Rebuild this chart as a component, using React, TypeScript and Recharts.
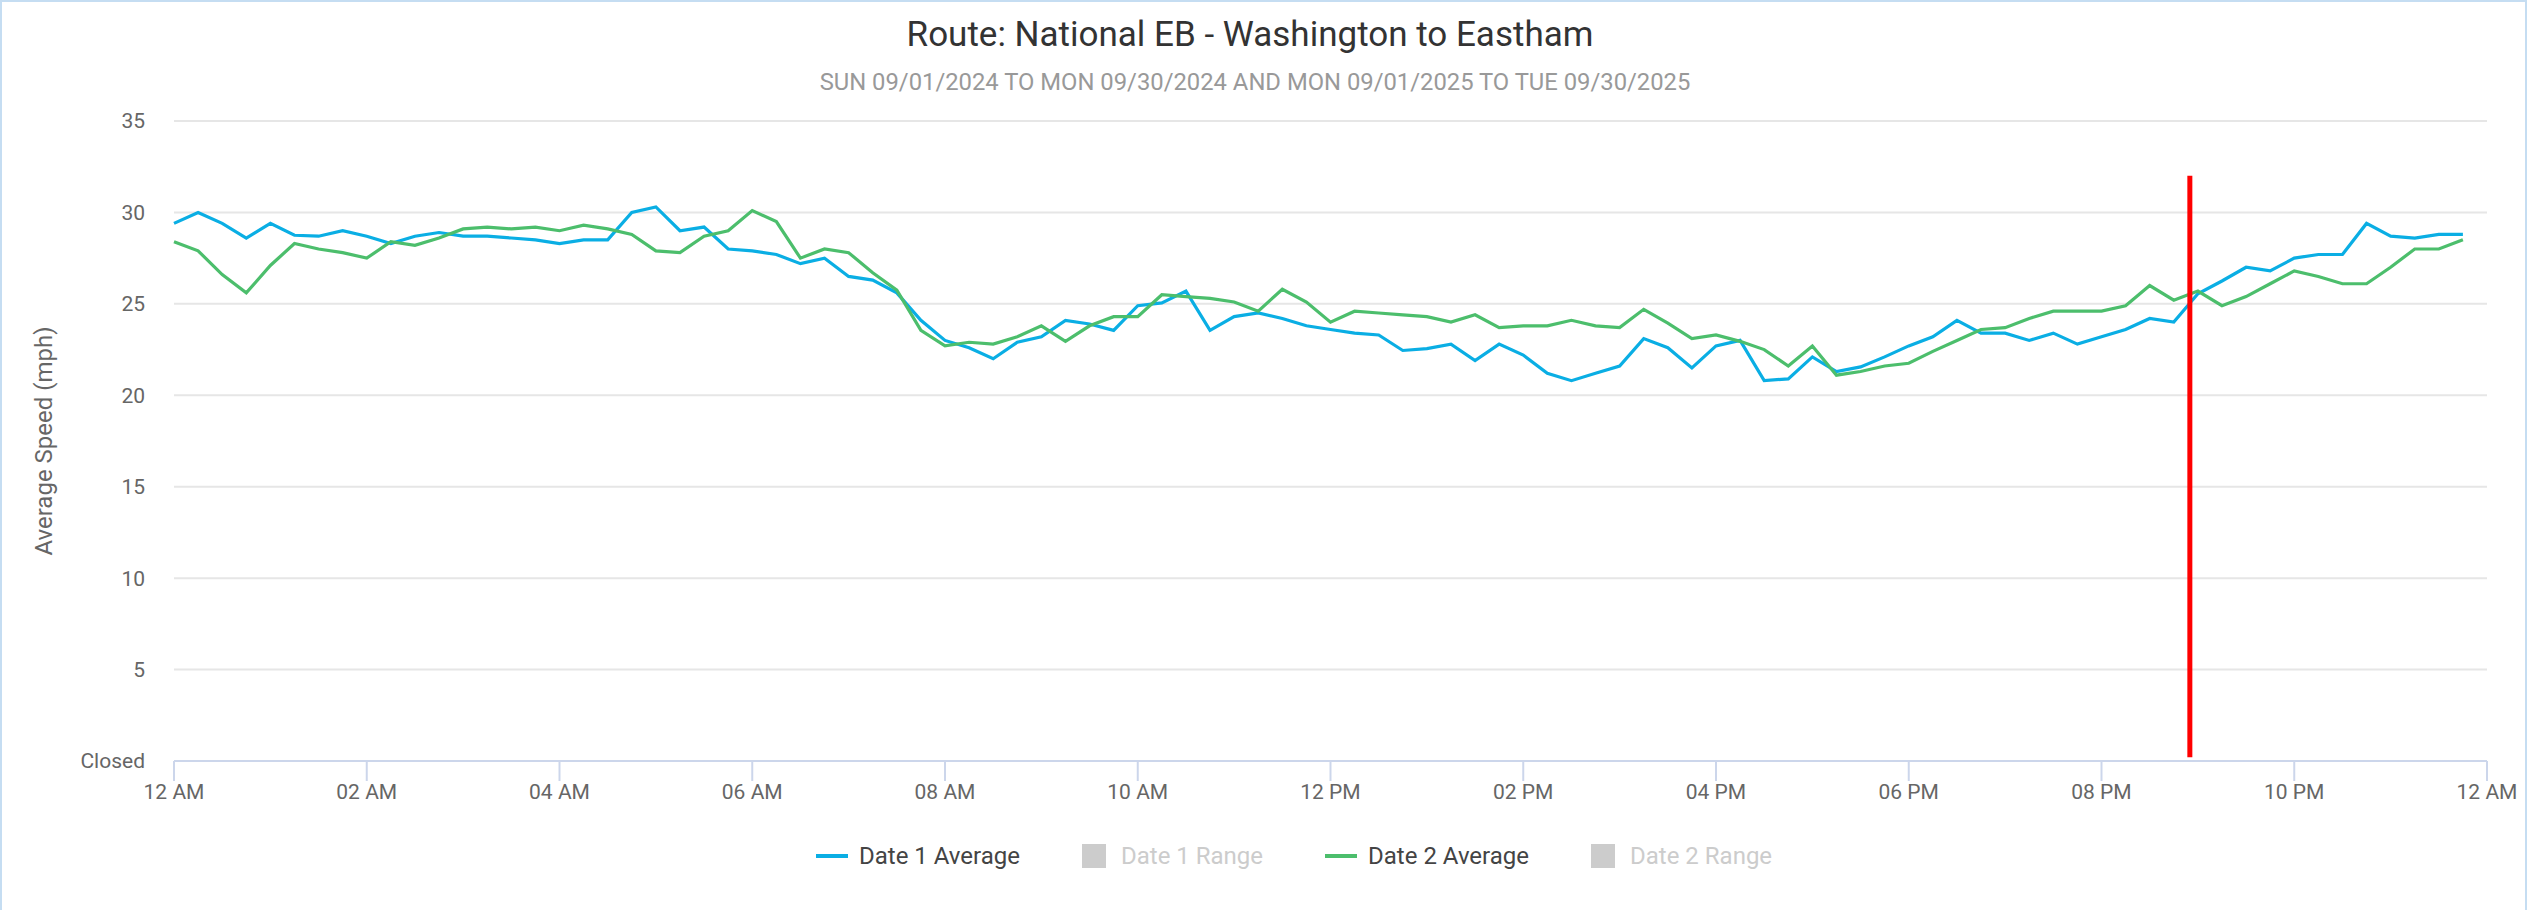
import { LineChart, Line, XAxis, YAxis, CartesianGrid, ReferenceLine } from "recharts";

const TITLE = "Route: National EB - Washington to Eastham";
const SUBTITLE = "SUN 09/01/2024 TO MON 09/30/2024 AND MON 09/01/2025 TO TUE 09/30/2025";
const Y_LABEL = "Average Speed (mph)";

// 15-minute buckets, 00:00 .. 23:45
const date1Avg = [
  29.4, 30.0, 29.4, 28.6, 29.4, 28.75, 28.7, 29.0, 28.7, 28.3,
  28.7, 28.9, 28.7, 28.7, 28.6, 28.5, 28.3, 28.5, 28.5, 30.0,
  30.3, 29.0, 29.2, 28.0, 27.9, 27.7, 27.2, 27.5, 26.5, 26.3,
  25.6, 24.1, 23.0, 22.6, 22.0, 22.9, 23.2, 24.1, 23.9, 23.55,
  24.9, 25.05, 25.7, 23.55, 24.3, 24.5, 24.2, 23.8, 23.6, 23.4,
  23.3, 22.45, 22.55, 22.8, 21.9, 22.8, 22.2, 21.2, 20.8, 21.2,
  21.6, 23.1, 22.6, 21.5, 22.7, 23.0, 20.8, 20.9, 22.1, 21.3,
  21.55, 22.1, 22.7, 23.2, 24.1, 23.4, 23.4, 23.0, 23.4, 22.8,
  23.2, 23.6, 24.2, 24.0, 25.55, 26.25, 27.0, 26.8, 27.5, 27.7,
  27.7, 29.4, 28.7, 28.6, 28.8, 28.8,
];

const date2Avg = [
  28.4, 27.9, 26.6, 25.6, 27.1, 28.3, 28.0, 27.8, 27.5, 28.4,
  28.2, 28.6, 29.1, 29.2, 29.1, 29.2, 29.0, 29.3, 29.1, 28.8,
  27.9, 27.8, 28.7, 29.0, 30.1, 29.5, 27.5, 28.0, 27.8, 26.7,
  25.75, 23.55, 22.7, 22.9, 22.8, 23.2, 23.8, 22.95, 23.8, 24.3,
  24.3, 25.5, 25.4, 25.3, 25.1, 24.6, 25.8, 25.1, 24.0, 24.6,
  24.5, 24.4, 24.3, 24.0, 24.4, 23.7, 23.8, 23.8, 24.1, 23.8,
  23.7, 24.7, 23.95, 23.1, 23.3, 22.95, 22.5, 21.6, 22.7, 21.1,
  21.3, 21.6, 21.75, 22.4, 23.0, 23.6, 23.7, 24.2, 24.6, 24.6,
  24.6, 24.9, 26.0, 25.2, 25.7, 24.9, 25.4, 26.1, 26.8, 26.5,
  26.1, 26.1, 27.0, 28.0, 28.0, 28.5,
];

const xTicks = [0, 120, 240, 360, 480, 600, 720, 840, 960, 1080, 1200, 1320, 1440];
const xTickLabels = [
  "12 AM", "02 AM", "04 AM", "06 AM", "08 AM", "10 AM", "12 PM",
  "02 PM", "04 PM", "06 PM", "08 PM", "10 PM", "12 AM",
];
const yTicks = [0, 5, 10, 15, 20, 25, 30, 35];

// current time marker (minutes after midnight)
const nowMinute = 1255;
const nowTop = 32;

const BLUE = "#0aaee4";
const GREEN = "#4cbe6c";

const legendItems = [
  { name: "Date 1 Average", color: BLUE, kind: "line", active: true },
  { name: "Date 1 Range", color: "#cccccc", kind: "box", active: false },
  { name: "Date 2 Average", color: GREEN, kind: "line", active: true },
  { name: "Date 2 Range", color: "#cccccc", kind: "box", active: false },
];

const data = date1Avg.map((v, i) => ({ t: i * 15, d1: v, d2: date2Avg[i] }));

export default function App() {
  return (
    <div
      style={{
        position: "absolute",
        left: 0,
        top: 0,
        width: 2527,
        height: 910,
        background: "#fff",
        fontFamily: "Roboto, sans-serif",
        overflow: "hidden",
      }}
    >
      <div
        style={{
          position: "absolute",
          left: 0,
          top: 0,
          width: 2527,
          height: 910,
          boxSizing: "border-box",
          border: "2px solid #c5ddf2",
          borderBottom: "none",
          pointerEvents: "none",
        }}
      />
      <div
        style={{
          position: "absolute",
          left: 0,
          width: 2500,
          top: 17,
          fontSize: 35,
          lineHeight: "35px",
          color: "#333333",
          textAlign: "center",
          whiteSpace: "nowrap",
        }}
      >
        {TITLE}
      </div>
      <div
        style={{
          position: "absolute",
          left: 0,
          width: 2510,
          top: 70,
          fontSize: 23.8,
          lineHeight: "24px",
          color: "#999999",
          textAlign: "center",
          whiteSpace: "nowrap",
        }}
      >
        {SUBTITLE}
      </div>

      <LineChart width={2527} height={910} data={data} margin={{ top: 121, right: 40, left: 0, bottom: 89 }}>
        <CartesianGrid vertical={false} stroke="#e6e6e6" strokeWidth={2} />
        <XAxis
          dataKey="t"
          type="number"
          domain={[0, 1440]}
          ticks={xTicks}
          interval={0}
          height={60}
          tickFormatter={(v: number) => xTickLabels[xTicks.indexOf(v)]}
          axisLine={{ stroke: "#ccd6eb", strokeWidth: 2 }}
          tickLine={{ stroke: "#ccd6eb", strokeWidth: 2 }}
          tickSize={20}
          tickMargin={3}
          tick={{ fill: "#666666", fontSize: 21 }}
        />
        <YAxis
          type="number"
          domain={[0, 35]}
          ticks={yTicks}
          interval={0}
          width={174}
          axisLine={false}
          tickLine={false}
          tickSize={0}
          tickMargin={29}
          tickFormatter={(v: number) => (v === 0 ? "Closed" : String(v))}
          tick={{ fill: "#666666", fontSize: 21 }}
          label={{
            value: Y_LABEL,
            angle: -90,
            position: "insideLeft",
            offset: 43,
            style: { textAnchor: "middle", fill: "#666666", fontSize: 24 },
          }}
        />
        <Line
          type="linear"
          dataKey="d1"
          stroke={BLUE}
          strokeWidth={3.2}
          dot={false}
          isAnimationActive={false}
        />
        <Line
          type="linear"
          dataKey="d2"
          stroke={GREEN}
          strokeWidth={3.2}
          dot={false}
          isAnimationActive={false}
        />
        <ReferenceLine
          segment={[
            { x: nowMinute, y: 0.2 },
            { x: nowMinute, y: nowTop },
          ]}
          stroke="#ff0000"
          strokeWidth={5}
        />
      </LineChart>

      <div
        style={{
          position: "absolute",
          left: 816,
          top: 844,
          display: "flex",
          alignItems: "center",
          gap: 62,
          fontSize: 24,
          lineHeight: "24px",
          whiteSpace: "nowrap",
        }}
      >
        {legendItems.map((it) => (
          <div key={it.name} style={{ display: "flex", alignItems: "center" }}>
            {it.kind === "line" ? (
              <div style={{ width: 32, height: 4, background: it.color, marginRight: 11 }} />
            ) : (
              <div style={{ width: 24, height: 24, background: it.color, marginRight: 15 }} />
            )}
            <span style={{ color: it.active ? "#444444" : "#cccccc" }}>{it.name}</span>
          </div>
        ))}
      </div>
    </div>
  );
}
